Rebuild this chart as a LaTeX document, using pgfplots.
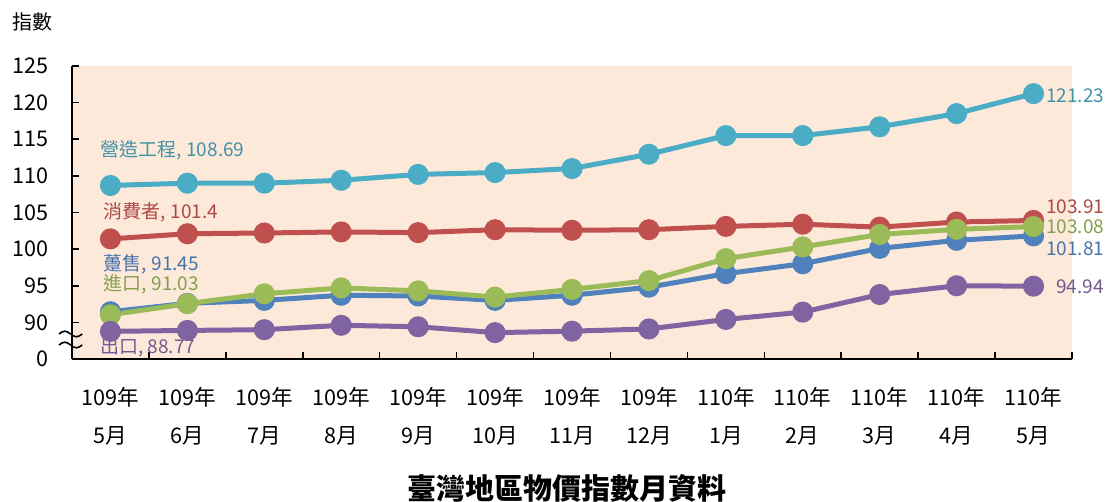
\documentclass[border=0pt]{standalone}
\usepackage{pgfplots}
\pgfplotsset{compat=1.18}
\usepackage{fontspec}
\setmainfont{Noto Sans CJK TC}
\definecolor{peach}{HTML}{FDE9D9}
\definecolor{ccyan}{HTML}{4BACC6}
\definecolor{cred}{HTML}{C0504D}
\definecolor{cblue}{HTML}{4F81BD}
\definecolor{cgreen}{HTML}{9BBB59}
\definecolor{cpurple}{HTML}{8064A2}
\pgfplotstableread{
x yj yc yw yi ye
0 108.69 101.40 91.45 91.03 88.77
1 109.00 102.10 92.60 92.55 88.90
2 109.00 102.20 93.00 93.90 89.00
3 109.40 102.35 93.70 94.70 89.60
4 110.20 102.25 93.60 94.30 89.40
5 110.45 102.65 93.00 93.45 88.60
6 111.00 102.57 93.70 94.50 88.80
7 112.95 102.65 94.80 95.70 89.10
8 115.50 103.10 96.65 98.70 90.40
9 115.50 103.40 98.00 100.30 91.40
10 116.70 103.00 100.10 102.00 93.80
11 118.50 103.70 101.20 102.70 95.00
12 121.23 103.91 101.81 103.08 94.94
}\data
\begin{document}
\begin{tikzpicture}
\useasboundingbox (0,0) rectangle (552.5pt,251pt);
\begin{axis}[
  at={(36pt,71.5pt)}, anchor=south west,
  scale only axis, width=500pt, height=146.5pt,
  xmin=-0.5, xmax=12.5, ymin=85, ymax=125,
  axis x line*=bottom, axis y line*=left,
  axis line style={line width=1pt, black, -},
  axis background/.style={fill=peach},
  tick align=inside,
  xtick={0,...,12},
  major x tick style={draw=none},
  minor xtick={-0.5,0.5,...,12.5},
  minor tick length=3.5pt, major tick length=3.5pt,
  every tick/.style={line width=0.8pt, black},
  xticklabels={{109年\\[6pt]5月},{109年\\[6pt]6月},{109年\\[6pt]7月},{109年\\[6pt]8月},{109年\\[6pt]9月},{109年\\[6pt]10月},{109年\\[6pt]11月},{109年\\[6pt]12月},{110年\\[6pt]1月},{110年\\[6pt]2月},{110年\\[6pt]3月},{110年\\[6pt]4月},{110年\\[6pt]5月}},
  xticklabel style={align=center, font=\fontsize{10.8pt}{12.9pt}\selectfont, yshift=-10.5pt},
  ytick={85,90,...,125},
  yticklabels={0,90,95,100,105,110,115,120,125},
  yticklabel style={font=\fontsize{10.8pt}{12.9pt}\selectfont, xshift=-8pt},
  /pgf/number format/assume math mode=true,
  clip=false,
]
\addplot[ccyan, line width=2.5pt, mark=*, mark size=4pt, mark options={solid, fill=ccyan, draw=ccyan}] table[x=x,y=yj] {\data};
\addplot[cred, line width=2.5pt, mark=*, mark size=4pt, mark options={solid, fill=cred, draw=cred}] table[x=x,y=yc] {\data};
\addplot[cblue, line width=2.5pt, mark=*, mark size=4pt, mark options={solid, fill=cblue, draw=cblue}] table[x=x,y=yw] {\data};
\addplot[cgreen, line width=2.5pt, mark=*, mark size=4pt, mark options={solid, fill=cgreen, draw=cgreen}] table[x=x,y=yi] {\data};
\addplot[cpurple, line width=2.5pt, mark=*, mark size=4pt, mark options={solid, fill=cpurple, draw=cpurple}] table[x=x,y=ye] {\data};
\begin{scope}[every node/.style={font=\fontsize{9.5pt}{11pt}\selectfont, inner sep=0pt, anchor=west}]
\node[text=ccyan!85!black] at (axis cs:-0.13,113.5) {營造工程, 108.69};
\node[text=cred!90!black] at (axis cs:-0.09,105.0) {消費者, 101.4};
\node[text=cblue!90!black] at (axis cs:-0.09,97.9) {躉售, 91.45};
\node[text=cgreen!85!black] at (axis cs:-0.09,95.2) {進口, 91.03};
\node[text=cpurple!90!black] at (axis cs:-0.14,86.6) {出口, 88.77};
\node[text=ccyan!85!black] at (axis cs:12.16,121.0) {121.23};
\node[text=cred!90!black] at (axis cs:12.16,105.85) {103.91};
\node[text=cgreen!85!black] at (axis cs:12.16,103.0) {103.08};
\node[text=cblue!90!black] at (axis cs:12.16,100.1) {101.81};
\node[text=cpurple!90!black] at (axis cs:12.29,94.8) {94.94};
\end{scope}
\end{axis}
\draw[line width=0.8pt, shift={(29.5pt,84pt)}, x=2.9pt, y=1.4pt] (0,0) sin (1,1) cos (2,0) sin (3,-1) cos (4,0);
\draw[line width=0.8pt, shift={(29.5pt,78.5pt)}, x=2.9pt, y=1.4pt] (0,0) sin (1,1) cos (2,0) sin (3,-1) cos (4,0);
\node[font=\fontsize{10pt}{12pt}\selectfont] at (16pt,240pt) {指數};
\node[font=\fontsize{14.5pt}{17pt}\selectfont\bfseries] at (283.5pt,7pt) {臺灣地區物價指數月資料};
\end{tikzpicture}
\end{document}
